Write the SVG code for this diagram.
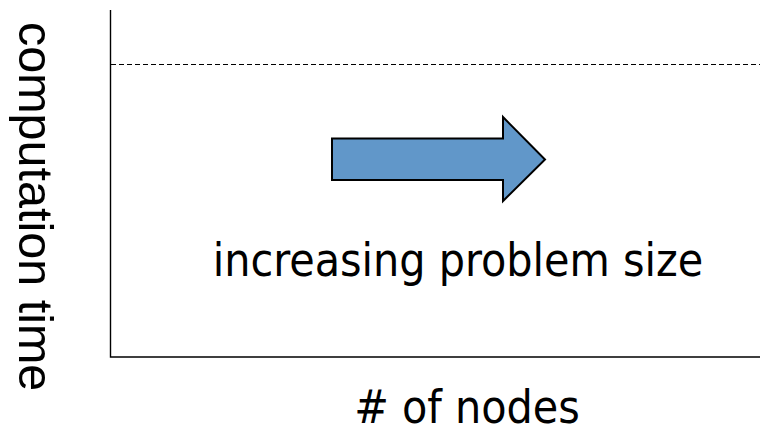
<svg xmlns="http://www.w3.org/2000/svg" width="760" height="433" viewBox="0 0 760 433">
  <style>
    .axis { stroke: #000; stroke-width: 1.4; fill: none; }
    .limit { stroke: #000; stroke-width: 1.2; stroke-dasharray: 5 3; fill: none; }
    .arrow { fill: #6197c9; stroke: #000; stroke-width: 2; stroke-linejoin: miter; }
    .label { font-family: "DejaVu Sans Condensed", "DejaVu Sans", sans-serif; font-stretch: condensed; font-size: 46px; fill: #000; }
    .ylabel { font-family: "Liberation Sans", Arial, sans-serif; font-size: 48.5px; fill: #000; }
  </style>
  <rect width="760" height="433" fill="#fff"/>

  <!-- axes and limit line -->
  <g id="connectors">
    <polyline class="axis" points="110.5,10 110.5,357 760,357"/>
    <line class="limit" x1="111" y1="64.5" x2="760" y2="64.5"/>
  </g>

  <!-- direction arrow -->
  <g id="growth-arrow">
    <polygon class="arrow" points="332,138.5 503,138.5 503,117 545,159.5 503,201 503,180 332,180"/>
  </g>

  <g id="caption">
    <text class="label" x="458" y="275.5" text-anchor="middle">increasing problem size</text>
  </g>

  <g id="x-axis-label">
    <text class="label" x="467" y="423" text-anchor="middle"># of nodes</text>
  </g>

  <g id="y-axis-label">
    <text class="ylabel" transform="translate(19,22) rotate(90)">computation time</text>
  </g>
</svg>
